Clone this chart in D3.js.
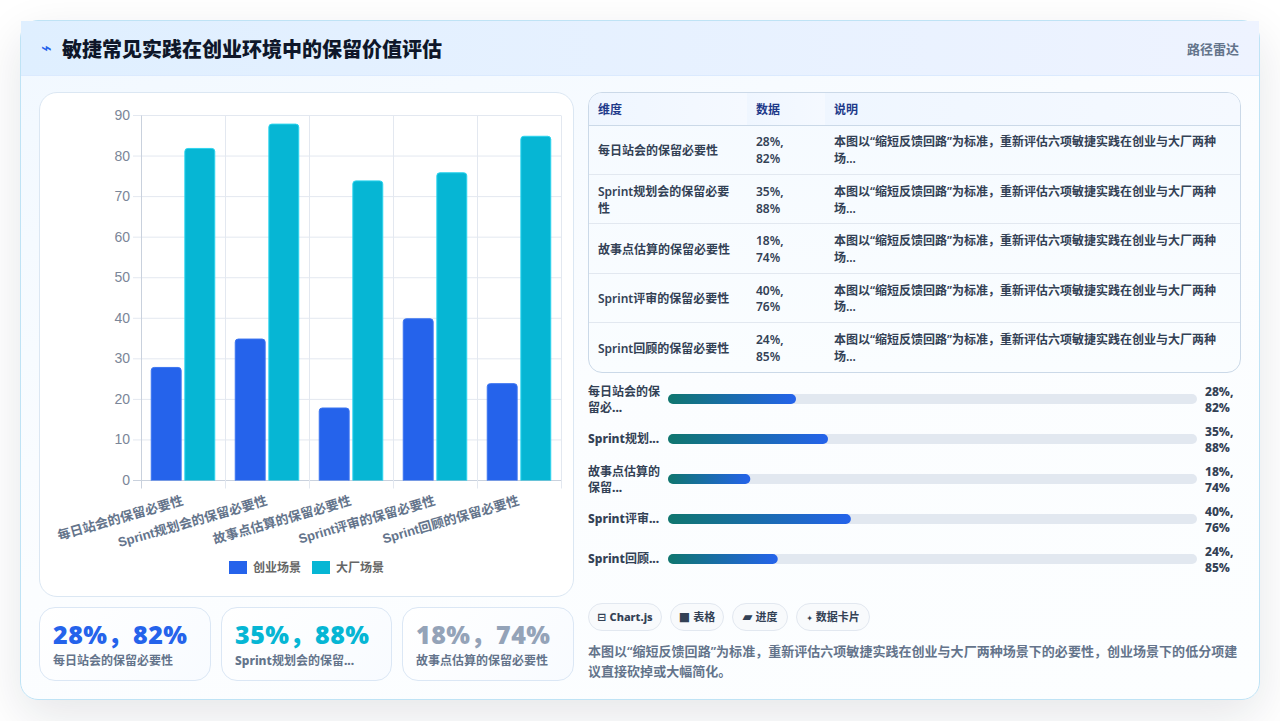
<!DOCTYPE html>
<html lang="zh-CN">
<head>
<meta charset="utf-8">
<title>敏捷常见实践在创业环境中的保留价值评估</title>
<script src="https://cdn.jsdelivr.net/npm/d3@7/dist/d3.min.js"></script>
<style>
  * { box-sizing: border-box; margin: 0; padding: 0; }
  html, body { width: 1280px; height: 721px; overflow: hidden; background: #fff; }
  body { font-family: "Noto Sans", "Noto Sans CJK SC", sans-serif; position: relative; }
  .abs { position: absolute; }
  .heavy { font-weight: 800; }
  #card { left: 20px; top: 20px; width: 1240px; height: 680px; border-radius: 18px; border: 1px solid #bfe3f5;
          background: linear-gradient(160deg, #f1f8ff 0%, #fbfdff 50%, #fcfeff 100%); box-shadow: 0 16px 48px rgba(15,23,42,.11); }
  #head { left: 0; top: 0; width: 1238px; height: 55px; background: linear-gradient(90deg, #dfefff, #eef3ff); border-bottom: 1px solid #dbeafe; }
  #bolt { left: 20px; top: 16px; font: 700 18px "DejaVu Sans"; color: #2563eb; }
  #title { left: 41px; top: 14px; font-size: 20px; line-height: 30px; font-weight: 800; color: #0f172a; }
  #tag { right: 20px; top: 18px; font-size: 13px; line-height: 20px; font-weight: 600; color: #64748b; }
  #panel { left: 39px; top: 92px; width: 535px; height: 505px; border-radius: 18px; border: 1px solid #dbe7f3; background: #fff; }
  #chart { left: 0; top: 0; }
  .kpi { top: 607px; height: 74px; border-radius: 16px; border: 1px solid #dbe7f5; background: linear-gradient(135deg, #fff, #f8fbff); }
  .kpi .v { position: absolute; left: 13px; top: 10px; font-size: 25px; line-height: 32px; font-weight: 900; letter-spacing: .5px; white-space: nowrap; }
  .kpi .l { position: absolute; left: 13px; top: 44px; font-size: 12px; line-height: 18px; font-weight: 600; color: #64748b; white-space: nowrap; }
  #tableWrap { left: 588px; top: 92px; width: 653px; height: 281px; border: 1px solid #cbd9e8; border-radius: 14px; overflow: hidden;
               background: linear-gradient(180deg, #f5faff, #fafdff); }
  table { width: 100%; border-collapse: collapse; table-layout: fixed; font-size: 12px; line-height: 16.8px; }
  th { height: 32px; padding: 4px 9px 0; text-align: left; font-weight: 700; color: #1e3a8a; background: linear-gradient(90deg, #eff6ff, #f5f9ff); border-bottom: 1px solid #cbd9e8; }
  td { height: 49.4px; padding: 3px 9px 0; font-weight: 600; color: #334155; border-bottom: 1px solid #e2e8f0; vertical-align: middle; }
  td:nth-child(2) { padding-right: 30px; }
  tr:last-child td { border-bottom: 0; }
  .pl { left: 588px; width: 76px; font-size: 12px; line-height: 16.4px; font-weight: 700; color: #334155; white-space: nowrap; }
  .pl div { height: 16.4px; }
  .pv { left: 1205px; width: 36px; font-size: 12px; line-height: 16px; font-weight: 800; color: #334155; }
  #bars { left: 0; top: 0; }
  .badge { top: 603px; height: 28px; border-radius: 14px; border: 1px solid #e2e8f0; background: #f8fafc; font-size: 11px; line-height: 26px; font-weight: 700; color: #334155; text-align: center; white-space: nowrap; }
  .badge .ic { font-family: "DejaVu Sans"; margin-right: 3px; color: #334155; }
  #note { left: 588px; top: 641px; width: 653px; font-size: 13px; line-height: 20px; font-weight: 600; letter-spacing: .03px; color: #64748b; }
</style>
</head>
<body>
<script>
// Survey values per practice: startup scenario vs. large-company scenario
const categories = ["每日站会的保留必要性", "Sprint规划会的保留必要性", "故事点估算的保留必要性", "Sprint评审的保留必要性", "Sprint回顾的保留必要性"];
const startupValues = [28, 35, 18, 40, 24];
const enterpriseValues = [82, 88, 74, 76, 85];
const seriesNames = ["创业场景", "大厂场景"];
const seriesColors = ["#2563eb", "#06b6d4"];
const seriesEdges = ["#3b74f0", "#2bd4ee"];
const yTicks = [0, 10, 20, 30, 40, 50, 60, 70, 80, 90];
const tableHeaders = ["维度", "数据", "说明"];
const tableNote = "本图以“缩短反馈回路”为标准，重新评估六项敏捷实践在创业与大厂两种场...";
const progressLabels = [["每日站会的保", "留必..."], ["Sprint规划..."], ["故事点估算的", "保留..."], ["Sprint评审..."], ["Sprint回顾..."]];
const kpiLabels = ["每日站会的保留必要性", "Sprint规划会的保留...", "故事点估算的保留必要性"];
const kpiColors = ["#2563eb", "#06b6d4", "#94a3b8"];
const badgeIcons = ["⊟", "■", "▰", "✦"];
const badgeIconSizes = [11, 12, 13, 8];
const badgeTexts = ["Chart.js", "表格", "进度", "数据卡片"];
const summary = "本图以“缩短反馈回路”为标准，重新评估六项敏捷实践在创业与大厂两种场景下的必要性，创业场景下的低分项建议直接砍掉或大幅简化。";
const pairText = i => `${startupValues[i]}%, ${enterpriseValues[i]}%`;

const body = d3.select("body");

// Latin runs and ellipses are set in a heavier cut than the CJK around them
function mixedText(sel, text) {
  text.split(/([A-Za-z.]+)/).filter(Boolean).forEach(part => {
    sel.append("span").classed("heavy", /^[A-Za-z.]+$/.test(part)).text(part);
  });
}

// Outer card and header
const card = body.append("div").attr("id", "card").attr("class", "abs");
const head = card.append("div").attr("id", "head").attr("class", "abs");
head.append("div").attr("id", "bolt").attr("class", "abs").text("⌁");
head.append("div").attr("id", "title").attr("class", "abs").text("敏捷常见实践在创业环境中的保留价值评估");
head.append("div").attr("id", "tag").attr("class", "abs").text("路径雷达");

body.append("div").attr("id", "panel").attr("class", "abs");

// Grouped bar chart
const svg = body.append("svg").attr("id", "chart").attr("class", "abs").attr("width", 1280).attr("height", 721);
const plot = { left: 141, right: 561, top: 115.5, bottom: 480.5 };
const x = d3.scaleBand().domain(categories).range([plot.left, plot.right]);
const inner = d3.scaleBand().domain(seriesNames).range([0, x.bandwidth() * 0.8]);
const y = d3.scaleLinear().domain([0, 90]).range([plot.bottom, plot.top]);
const gridColor = "#e3e8f0";

const gy = svg.append("g");
gy.selectAll("line").data(yTicks).join("line")
  .attr("x1", plot.left - 8).attr("x2", plot.right)
  .attr("y1", d => y(d)).attr("y2", d => y(d))
  .attr("stroke", d => d === 0 ? "#c9d1dd" : gridColor);
gy.selectAll("text").data(yTicks).join("text")
  .attr("x", plot.left - 11).attr("y", d => y(d) - .5)
  .attr("dy", "0.36em").attr("text-anchor", "end")
  .attr("font-family", "Liberation Sans").attr("font-size", 14).attr("fill", "#7b8698")
  .text(d => d);

const vBoundaries = categories.map(c => x(c)).concat(plot.right);
svg.append("g").selectAll("line").data(vBoundaries).join("line")
  .attr("x1", d => d + .5).attr("x2", d => d + .5)
  .attr("y1", plot.top).attr("y2", plot.bottom + 8)
  .attr("stroke", (d, i) => i === 0 ? "#c9d1dd" : gridColor);

// Bars: one group per series, top corners slightly rounded, thin lighter edge
const barPath = (bx, by, bw, by0, r) =>
  `M${bx},${by0}V${by + r}Q${bx},${by} ${bx + r},${by}H${bx + bw - r}Q${bx + bw},${by} ${bx + bw},${by + r}V${by0}`;
[startupValues, enterpriseValues].forEach((vals, s) => {
  const bw = inner.bandwidth() * 0.92;
  svg.append("g").selectAll("path").data(vals).join("path")
    .attr("fill", seriesColors[s])
    .attr("stroke", seriesEdges[s])
    .attr("stroke-width", 1)
    .attr("d", (v, i) => barPath(
      x(categories[i]) + x.bandwidth() * 0.1 + inner(seriesNames[s]) + (inner.bandwidth() - bw) / 2 + .5,
      y(v) + .5, bw - 1, y(0), 3));
});

// Rotated category labels
svg.append("g").selectAll("text").data(categories).join("text")
  .attr("transform", c => `translate(${x(c) + x.bandwidth() / 2 + 1},${plot.bottom + 24}) rotate(-16)`)
  .attr("text-anchor", "end")
  .attr("font-family", "Liberation Sans, Noto Sans CJK SC").attr("font-size", 13).attr("font-weight", 700).attr("fill", "#64748b")
  .text(c => c);

// Legend
const legend = svg.append("g").selectAll("g").data(seriesNames).join("g")
  .attr("transform", (d, i) => `translate(${229 + i * 83},561)`);
legend.append("rect").attr("width", 18).attr("height", 13).attr("fill", (d, i) => seriesColors[i]);
legend.append("text").attr("x", 24).attr("y", 10.5)
  .attr("font-family", "Liberation Sans, Noto Sans CJK SC").attr("font-size", 12).attr("font-weight", 700).attr("fill", "#666")
  .text(d => d);

// KPI cards
const kpiBoxes = [[39, 172], [221, 171], [402, 172]];
const kpi = body.selectAll(".kpi").data(kpiLabels).join("div").attr("class", "kpi abs")
  .style("left", (d, i) => kpiBoxes[i][0] + "px").style("width", (d, i) => kpiBoxes[i][1] + "px");
kpi.append("div").attr("class", "v").style("color", (d, i) => kpiColors[i])
  .text((d, i) => `${startupValues[i]}%，${enterpriseValues[i]}%`);
kpi.append("div").attr("class", "l").each(function (d) { mixedText(d3.select(this), d); });

// Data table
const table = body.append("div").attr("id", "tableWrap").attr("class", "abs").append("table");
const cols = table.append("colgroup");
[158, 78, 415].forEach(w => cols.append("col").style("width", w + "px"));
table.append("thead").append("tr").selectAll("th").data(tableHeaders).join("th").text(d => d);
const rows = table.append("tbody").selectAll("tr").data(categories).join("tr");
rows.append("td").text(d => d);
rows.append("td").text((d, i) => pairText(i));
rows.append("td").text(tableNote);

// Progress rows
const rowY = d3.scalePoint().domain(d3.range(categories.length)).range([399, 559]);
const progress = d3.scaleLinear().domain([0, 115.7]).range([0, 529]);
const bars = body.append("svg").attr("id", "bars").attr("class", "abs").attr("width", 1280).attr("height", 721);
const grad = bars.append("defs").append("linearGradient").attr("id", "fill");
grad.append("stop").attr("offset", 0).attr("stop-color", "#0f766e");
grad.append("stop").attr("offset", 1).attr("stop-color", "#2563eb");
bars.selectAll(".track").data(startupValues).join("rect").attr("class", "track")
  .attr("x", 668).attr("width", 529).attr("height", 10).attr("rx", 5)
  .attr("y", (d, i) => rowY(i) - 5).attr("fill", "#e2e8f0");
bars.selectAll(".fillbar").data(startupValues).join("rect").attr("class", "fillbar")
  .attr("x", 668).attr("width", d => progress(d)).attr("height", 10).attr("rx", 5)
  .attr("y", (d, i) => rowY(i) - 5).attr("fill", "url(#fill)");
progressLabels.forEach((lines, i) => {
  const label = body.append("div").attr("class", "pl abs")
    .style("top", (rowY(i) - (lines.length === 1 ? 8.5 : 15.5)) + "px");
  lines.forEach(line => mixedText(label.append("div"), line));
  body.append("div").attr("class", "pv abs")
    .style("top", (rowY(i) - 15) + "px").text(pairText(i));
});

// Badges and summary text
const badgeBoxes = [[588, 74], [670, 54], [732, 56], [796, 74]];
const badge = body.selectAll(".badge").data(badgeTexts).join("div").attr("class", "badge abs")
  .style("left", (d, i) => badgeBoxes[i][0] + "px").style("width", (d, i) => badgeBoxes[i][1] + "px");
badge.append("span").attr("class", "ic")
  .style("font-size", (d, i) => badgeIconSizes[i] + "px").text((d, i) => badgeIcons[i]);
badge.append("span").classed("heavy", d => d === "Chart.js").text(d => d);
body.append("div").attr("id", "note").attr("class", "abs").text(summary);
</script>
</body>
</html>
